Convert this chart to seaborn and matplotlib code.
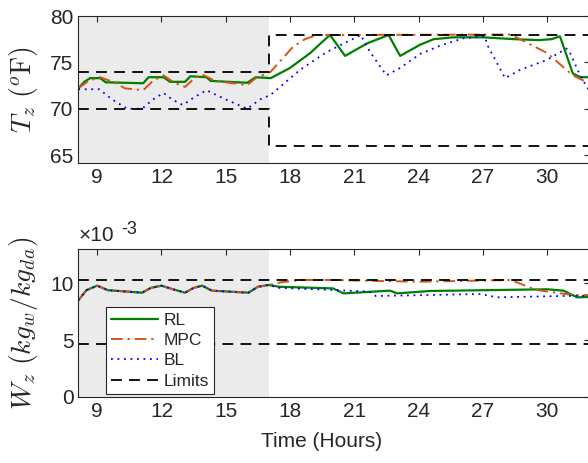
import numpy as np
import matplotlib
matplotlib.use("Agg")
import matplotlib.pyplot as plt
import seaborn as sns

# top panel: zone temperature (F)
t_rl = [8.12, 8.4, 8.67, 9.14, 9.4, 11.15, 11.4, 12.1, 12.4, 13.1, 13.35, 14.1, 14.3, 16.0, 16.4, 17.1,
        18.0, 18.94, 19.5, 19.87, 20.57, 21.6, 22.6, 23.14, 24.07, 24.7, 25.6, 27.0, 28.5, 29.6, 30.2,
        30.6, 31.2, 31.55, 32.0]
T_rl = [72.2, 72.9, 73.3, 73.3, 72.85, 72.75, 73.4, 73.4, 72.9, 72.9, 73.5, 73.4, 73.0, 72.8, 73.4, 73.3,
        74.4, 76.0, 77.2, 77.95, 75.7, 77.05, 77.95, 75.7, 76.9, 77.5, 77.7, 77.7, 77.5, 77.4, 77.5,
        77.8, 73.8, 73.4, 73.4]

t_mpc = [8.12, 8.6, 9.14, 9.84, 10.3, 11.15, 11.6, 12.1, 12.6, 13.1, 13.5, 13.9, 14.5, 16.0, 16.4, 17.1,
         18.15, 18.7, 19.25, 28.3, 29.0, 30.0, 31.2, 32.0]
T_mpc = [72.2, 73.0, 73.4, 72.8, 72.2, 72.0, 73.0, 73.6, 72.8, 72.35, 73.2, 73.7, 73.0, 72.55, 73.3, 74.0,
         76.7, 77.5, 77.95, 78.0, 77.2, 76.0, 73.6, 72.7]

t_bl = [8.12, 9.1, 9.7, 10.4, 11.1, 11.6, 12.1, 12.5, 13.0, 13.5, 14.1, 15.0, 16.0, 16.6, 17.1,
        18.47, 19.7, 21.3, 21.74, 22.5, 23.14, 24.07, 25.0, 26.1, 27.1, 27.2, 28.04, 28.74, 29.98,
        30.9, 31.07, 31.54, 32.0]
T_bl = [72.1, 72.1, 71.0, 70.0, 70.0, 71.0, 71.7, 71.0, 70.4, 71.2, 72.0, 71.0, 70.0, 71.0, 71.5,
        74.2, 76.1, 77.95, 76.1, 73.6, 74.4, 75.9, 76.8, 77.6, 77.8, 76.9, 73.3, 74.2, 75.25,
        76.5, 76.0, 73.6, 71.8]

t_lim = [8.12, 17, 17, 32]
T_hi = [74, 74, 78, 78]
T_lo = [70, 70, 66, 66]

# bottom panel: humidity ratio (x1e-3)
tw_rl = [8.12, 8.5, 9.0, 9.5, 11.1, 11.5, 12.0, 12.5, 13.1, 13.5, 13.9, 14.35, 16.06, 16.5, 17.0, 17.5,
         20.0, 20.5, 22.67, 23.0, 24.54, 30.0, 30.76, 31.4, 32.0]
W_rl = [8.5, 9.4, 9.8, 9.4, 9.18, 9.6, 9.8, 9.5, 9.18, 9.6, 9.8, 9.36, 9.18, 9.7, 9.86, 9.7,
        9.56, 9.12, 9.36, 9.12, 9.33, 9.48, 9.36, 8.77, 8.8]

tw_mpc = [8.12, 8.5, 9.0, 9.5, 11.1, 11.5, 12.0, 12.5, 13.1, 13.5, 13.9, 14.35, 16.06, 16.5, 17.0,
          17.6, 18.5, 20.0, 22.5, 24.07, 28.3, 29.5, 31.2, 32.0]
W_mpc = [8.5, 9.4, 9.8, 9.4, 9.18, 9.6, 9.8, 9.5, 9.18, 9.6, 9.8, 9.36, 9.18, 9.7, 9.86,
         10.1, 10.3, 10.3, 10.2, 10.15, 10.3, 9.42, 8.97, 8.97]

tw_bl = [8.12, 8.5, 9.0, 9.5, 11.1, 11.5, 12.0, 12.5, 13.1, 13.5, 13.9, 14.35, 16.06, 16.5, 17.0,
         17.5, 20.0, 21.7, 22.0, 26.9, 27.65, 30.76, 32.0]
W_bl = [8.5, 9.4, 9.8, 9.4, 9.18, 9.6, 9.8, 9.5, 9.18, 9.6, 9.8, 9.36, 9.18, 9.7, 9.86,
        9.6, 9.42, 9.27, 8.89, 9.06, 8.77, 8.89, 8.9]

tw_lim = [8.12, 32]
W_hi = [10.33, 10.33]
W_lo = [4.65, 4.65]

xticks = [9, 12, 15, 18, 21, 24, 27, 30]

sns.set_style("white")
plt.rcParams['font.family'] = ['Liberation Sans', 'DejaVu Sans']
plt.rcParams['mathtext.fontset'] = 'cm'
plt.rcParams['xtick.direction'] = 'in'
plt.rcParams['ytick.direction'] = 'in'

grey = '#262626'
c_rl, c_mpc, c_bl = '#008000', '#D95319', '#0000FF'

fig = plt.figure(figsize=(5.88, 4.63), dpi=100)
W, H = 588, 463
ax1 = fig.add_axes([78.3 / W, (H - 163) / H, 511.7 / W, 147 / H])
ax2 = fig.add_axes([78.3 / W, (H - 396.7) / H, 511.7 / W, 147.3 / H])

def draw(ax, tr, yr, tm, ym, tb, yb):
    ax.axvspan(8.12, 17, color='#ebebeb', lw=0, zorder=0)
    sns.lineplot(x=tr, y=yr, ax=ax, color=c_rl, lw=1.6, estimator=None, sort=False, label='RL')
    sns.lineplot(x=tm, y=ym, ax=ax, color=c_mpc, lw=1.4, estimator=None, sort=False, label='MPC')
    ax.lines[-1].set_dashes([6, 2.5, 1.2, 2.5])
    sns.lineplot(x=tb, y=yb, ax=ax, color=c_bl, lw=1.3, estimator=None, sort=False, label='BL')
    ax.lines[-1].set_dashes([1, 2.6])

draw(ax1, t_rl, T_rl, t_mpc, T_mpc, t_bl, T_bl)
for hi_lo in (T_hi, T_lo):
    sns.lineplot(x=t_lim, y=hi_lo, ax=ax1, color='black', lw=1.3, estimator=None, sort=False)
    ax1.lines[-1].set_dashes([6, 4])

draw(ax2, tw_rl, W_rl, tw_mpc, W_mpc, tw_bl, W_bl)
sns.lineplot(x=tw_lim, y=W_hi, ax=ax2, color='black', lw=1.3, estimator=None, label='Limits')
ax2.lines[-1].set_dashes([6, 4])
sns.lineplot(x=tw_lim, y=W_lo, ax=ax2, color='black', lw=1.3, estimator=None)
ax2.lines[-1].set_dashes([6, 4])

ax1.set_xlim(8.12, 32)
ax1.set_ylim(64.15, 80)
ax1.set_yticks([65, 70, 75, 80])
ax2.set_xlim(8.12, 32)
ax2.set_ylim(0, 13)
ax2.set_yticks([0, 5, 10])

for ax in (ax1, ax2):
    ax.set_xticks(xticks)
    ax.tick_params(labelsize=15, colors=grey, top=True, right=True, length=4, width=0.8)
    for s in ax.spines.values():
        s.set_color(grey)
        s.set_linewidth(0.8)
    ax.set_xlabel('')

if ax1.legend_:
    ax1.legend_.remove()
ax1.set_ylabel(r'$T_z\ (^o\mathrm{F})$', fontsize=20, color=grey)
ax2.set_ylabel(r'$W_z\ (kg_w/kg_{da})$', fontsize=20, color=grey)
ax1.yaxis.set_label_coords(-0.075, 0.5)
ax2.yaxis.set_label_coords(-0.075, 0.5)
ax2.set_xlabel('Time (Hours)', fontsize=15, color=grey)
ax2.xaxis.set_label_coords(0.476, -0.24)

ax2.text(0.0, 1.03, '×10', transform=ax2.transAxes, fontsize=15, color=grey, ha='left', va='bottom')
ax2.annotate('-3', xy=(0.0, 1.03), xycoords='axes fraction', xytext=(31, 5), textcoords='offset points',
             fontsize=13, color=grey, ha='left', va='bottom')

h, lab = ax2.get_legend_handles_labels()
leg = ax2.legend(h, lab, loc='lower left', bbox_to_anchor=(0.054, 0.018), borderaxespad=0,
                 fontsize=12.5, frameon=True, fancybox=False, framealpha=1, edgecolor=grey,
                 handlelength=2.7, handletextpad=0.3, labelspacing=0.3, borderpad=0.3)
leg.get_frame().set_linewidth(0.8)

fig.savefig('out.png', dpi=100)
